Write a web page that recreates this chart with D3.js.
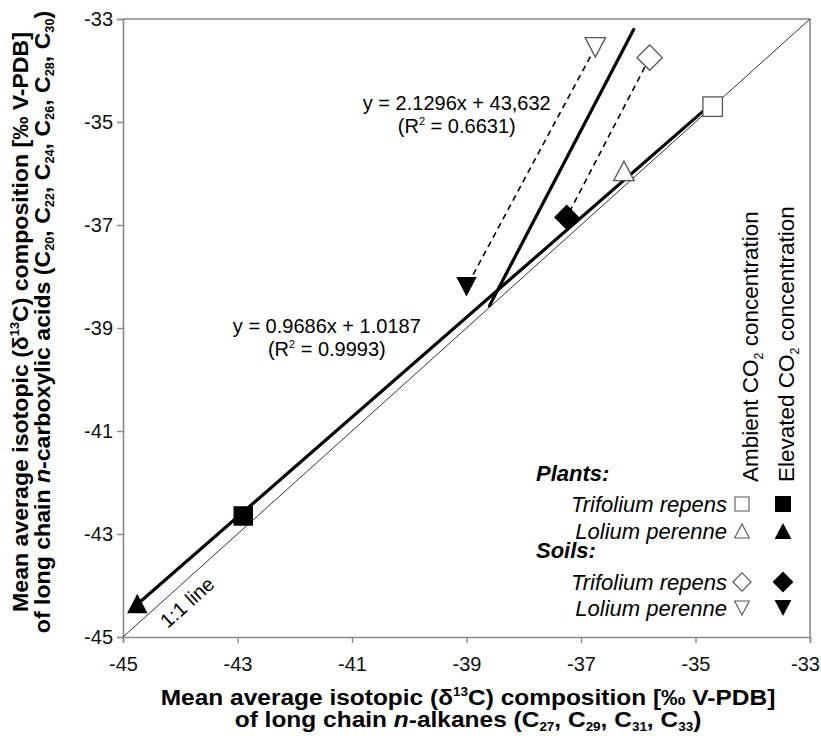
<!DOCTYPE html>
<html>
<head>
<meta charset="utf-8">
<script src="https://cdn.jsdelivr.net/npm/d3@7"></script>
<style>
  body { margin: 0; background: #fff; }
  svg { display: block; font-family: "Liberation Sans", Arial, sans-serif; }
</style>
</head>
<body>
<div id="chart"></div>
<script>
// Data
var groups = ['Plants', 'Plants', 'Soils', 'Soils'];
var species = ['Trifolium repens', 'Lolium perenne', 'Trifolium repens', 'Lolium perenne'];
var shapes = ['square', 'triangle', 'diamond', 'triangleDown'];
var ambientX = [-34.7, -36.25, -35.8, -36.75];
var ambientY = [-34.7, -35.95, -33.75, -33.55];
var elevatedX = [-42.9, -44.75, -37.25, -39.0];
var elevatedY = [-42.65, -44.35, -36.85, -38.2];

// regression lines (slope, intercept, x range)
var fitSlope = [0.9686, 2.1296];
var fitIntercept = [-1.0187, 43.632];
var fitFrom = [-44.75, -38.6];
var fitTo = [-34.7, -36.08];
var fitLabel = ['y = 0.9686x + 1.0187', 'y = 2.1296x + 43,632'];
var fitR2 = ['0.9993', '0.6631'];

var xTicks = [-45, -43, -41, -39, -37, -35, -33];
var yTicks = [-45, -43, -41, -39, -37, -35, -33];

var chart_width = 821;
var chart_height = 736;
var svg = d3.select('#chart')
  .append('svg')
  .attr('width', chart_width)
  .attr('height', chart_height);

var plotLeft = 123, plotRight = 810, plotTop = 19, plotBottom = 637;
var axisColor = '#8a8a8a';

var xScale = d3.scaleLinear().domain([-45, -33]).range([plotLeft, plotRight]);
var yScale = d3.scaleLinear().domain([-45, -33]).range([plotBottom, plotTop]);

// Axes
var xAxis = svg.append('g')
  .attr('transform', 'translate(0,' + plotBottom + ')')
  .call(d3.axisBottom(xScale).tickValues(xTicks).tickSize(6).tickPadding(14).tickFormat(d => String(d)));
var yAxis = svg.append('g')
  .attr('transform', 'translate(' + plotLeft + ',0)')
  .call(d3.axisLeft(yScale).tickValues(yTicks).tickSize(6).tickPadding(4).tickFormat(d => String(d)));

[xAxis, yAxis].forEach(a => {
  a.select('.domain').attr('stroke', axisColor).attr('stroke-width', 1.6);
  a.selectAll('.tick line').attr('stroke', axisColor).attr('stroke-width', 1.4);
  a.selectAll('.tick text').attr('fill', '#111').attr('font-size', 20)
    .attr('font-family', '"Liberation Sans", Arial, sans-serif');
});
// keep the last x label inside the picture
xAxis.selectAll('.tick text').filter(d => d === -33).attr('dx', -5);

// top and right border
svg.append('path')
  .attr('d', 'M' + plotLeft + ',' + plotTop + 'H' + plotRight + 'V' + plotBottom)
  .attr('fill', 'none')
  .attr('stroke', axisColor)
  .attr('stroke-width', 1.6);

// 1:1 line
svg.append('line')
  .attr('x1', xScale(-45)).attr('y1', yScale(-45))
  .attr('x2', xScale(-33)).attr('y2', yScale(-33))
  .attr('stroke', '#333').attr('stroke-width', 1);

var angle = Math.atan2(yScale(-45) - yScale(-33), xScale(-33) - xScale(-45)) * 180 / Math.PI;
svg.append('text')
  .attr('transform', 'translate(' + xScale(-43.88) + ',' + (yScale(-43.88) + 23) + ') rotate(' + (-angle) + ')')
  .attr('text-anchor', 'middle')
  .attr('dominant-baseline', 'central')
  .attr('font-size', 20)
  .text('1:1 line');

// fit lines
fitSlope.forEach((m, i) => {
  svg.append('line')
    .attr('x1', xScale(fitFrom[i])).attr('y1', yScale(m * fitFrom[i] + fitIntercept[i]))
    .attr('x2', xScale(fitTo[i])).attr('y2', yScale(m * fitTo[i] + fitIntercept[i]))
    .attr('stroke', '#000')
    .attr('stroke-width', 3.2)
    .attr('stroke-linecap', 'round');
});

// dashed arrows for the soils (ambient -> elevated)
groups.forEach((g, i) => {
  if (g !== 'Soils') return;
  svg.append('line')
    .attr('x1', xScale(ambientX[i])).attr('y1', yScale(ambientY[i]))
    .attr('x2', xScale(elevatedX[i])).attr('y2', yScale(elevatedY[i]))
    .attr('stroke', '#000')
    .attr('stroke-width', 1.6)
    .attr('stroke-dasharray', '6,4.5');
});

function shapePath(shape, s) {
  var h = s / 2;
  if (shape === 'square') return 'M' + (-h) + ',' + (-h) + 'h' + s + 'v' + s + 'h' + (-s) + 'Z';
  if (shape === 'triangle') return 'M0,' + (-h) + 'L' + (h * 1.05) + ',' + h + 'L' + (-h * 1.05) + ',' + h + 'Z';
  if (shape === 'triangleDown') return 'M0,' + h + 'L' + (h * 1.05) + ',' + (-h) + 'L' + (-h * 1.05) + ',' + (-h) + 'Z';
  var r = h * 1.3;
  return 'M0,' + (-r) + 'L' + r + ',0L0,' + r + 'L' + (-r) + ',0Z';
}

// markers
var markerSize = 19.5;
shapes.forEach((s, i) => {
  svg.append('path')
    .attr('d', shapePath(s, markerSize))
    .attr('transform', 'translate(' + xScale(ambientX[i]) + ',' + yScale(ambientY[i]) + ')')
    .attr('fill', '#fff')
    .attr('stroke', '#555')
    .attr('stroke-width', 1.3);
  svg.append('path')
    .attr('d', shapePath(s, markerSize))
    .attr('transform', 'translate(' + xScale(elevatedX[i]) + ',' + yScale(elevatedY[i]) + ')')
    .attr('fill', '#000');
});

// rich text helper: parts = [[text, kind]]
function richText(t, parts, size) {
  var shift = 0;
  parts.forEach(p => {
    var kind = p[1];
    var ts = t.append('tspan').text(p[0]);
    var target = kind === 'sup' ? -0.42 * size : (kind === 'sub' ? 0.2 * size : 0);
    if (target - shift !== 0) ts.attr('dy', target - shift);
    shift = target;
    if (kind === 'sup' || kind === 'sub') ts.attr('font-size', size * 0.55);
    if (kind === 'i') ts.attr('font-style', 'italic');
  });
  return t;
}

// equations
var eqPos = [[-41.44, -39.10], [-39.17, -34.77]];
fitLabel.forEach((lab, i) => {
  var cx = xScale(eqPos[i][0]), by = yScale(eqPos[i][1]);
  svg.append('text').attr('x', cx).attr('y', by)
    .attr('text-anchor', 'middle').attr('font-size', 20).text(lab);
  var t = svg.append('text').attr('x', cx).attr('y', by + 23)
    .attr('text-anchor', 'middle').attr('font-size', 20);
  richText(t, [['(R', null], ['2', 'sup'], [' = ' + fitR2[i] + ')', null]], 20);
});

// axis titles
function fitted(parent, parts, size, target) {
  var g = parent.append('g');
  var t = g.append('text').attr('text-anchor', 'middle')
    .attr('font-size', size).attr('font-weight', 'bold');
  richText(t, parts, size);
  var len = t.node().getComputedTextLength();
  return { g: g, s: target / len };
}

var title1 = [['Mean average isotopic (\u03B4', null], ['13', 'sup'], ['C) composition [\u2030 V-PDB]', null]];
var xTitle2 = [['of long chain ', null], ['n', 'i'], ['-alkanes (C', null], ['27', 'sub'], [', C', null], ['29', 'sub'],
  [', C', null], ['31', 'sub'], [', C', null], ['33', 'sub'], [')', null]];
var yTitle2 = [['of long chain ', null], ['n', 'i'], ['-carboxylic acids (C', null], ['20', 'sub'], [', C', null], ['22', 'sub'],
  [', C', null], ['24', 'sub'], [', C', null], ['26', 'sub'], [', C', null], ['28', 'sub'], [', C', null], ['30', 'sub'], [')', null]];

var xt1 = fitted(svg, title1, 22, 615);
xt1.g.attr('transform', 'translate(468,705) scale(' + xt1.s + ',1)');
var xt2 = fitted(svg, xTitle2, 22, 100);
xt2.g.attr('transform', 'translate(468,727) scale(' + xt1.s + ',1)');

var yt1 = fitted(svg, title1, 22, 580);
yt1.g.attr('transform', 'translate(28,322) rotate(-90) scale(' + yt1.s + ',1)');
var yt2 = fitted(svg, yTitle2, 22, 100);
yt2.g.attr('transform', 'translate(50,322) rotate(-90) scale(' + yt1.s + ',1)');

// legend
var colAmbient = 742, colElevated = 783, textRight = 727, headLeft = 536;
var rowY = [504, 531, 582, 608];
var headY = { Plants: 481, Soils: 558 };

Object.keys(headY).forEach(k => {
  svg.append('text').attr('x', headLeft).attr('y', headY[k])
    .attr('font-size', 22).attr('font-weight', 'bold').attr('font-style', 'italic')
    .text(k + ':');
});

species.forEach((sp, i) => {
  svg.append('text').attr('x', textRight).attr('y', rowY[i] + 7.5)
    .attr('text-anchor', 'end').attr('font-size', 22).attr('font-style', 'italic')
    .text(sp);
  svg.append('path')
    .attr('d', shapePath(shapes[i], 14))
    .attr('transform', 'translate(' + colAmbient + ',' + rowY[i] + ')')
    .attr('fill', '#fff').attr('stroke', '#555').attr('stroke-width', 1.1);
  svg.append('path')
    .attr('d', shapePath(shapes[i], 16))
    .attr('transform', 'translate(' + colElevated + ',' + rowY[i] + ')')
    .attr('fill', '#000');
});

var colTitles = [['Ambient CO', colAmbient + 16], ['Elevated CO', colElevated + 11]];
colTitles.forEach(c => {
  var t = svg.append('text')
    .attr('transform', 'translate(' + c[1] + ',482) rotate(-90)')
    .attr('font-size', 22.5);
  richText(t, [[c[0], null], ['2', 'sub'], [' concentration', null]], 22.5);
});
</script>
</body>
</html>
